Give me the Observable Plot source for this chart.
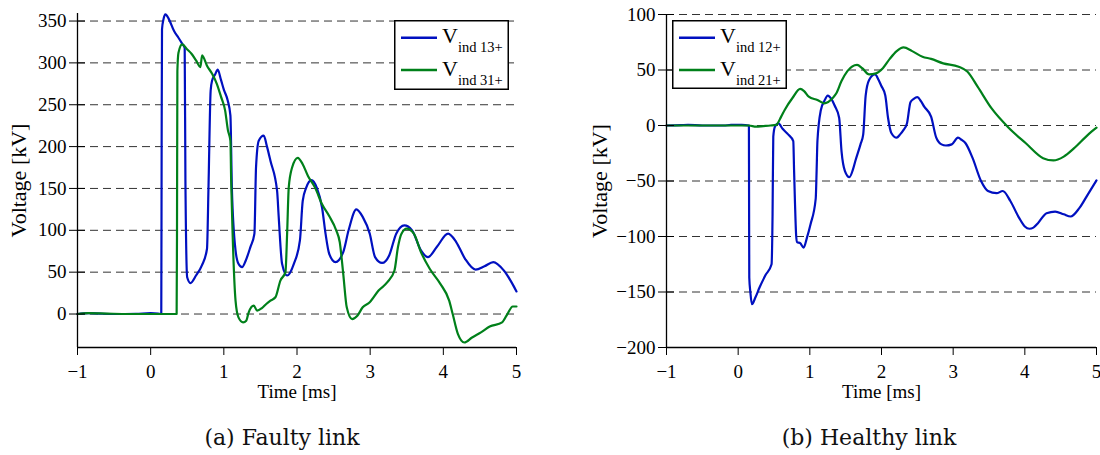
<!DOCTYPE html>
<html><head><meta charset="utf-8">
<script src="https://cdn.jsdelivr.net/npm/d3@7"></script>
<script src="https://cdn.jsdelivr.net/npm/@observablehq/plot@0.6"></script>
<style>
body{margin:0;background:#fff;}
#wrap{position:relative;width:1100px;height:455px;font-family:"Liberation Serif",serif;overflow:hidden;}
.panel{position:absolute;top:0;}
.panel svg{overflow:visible;}
.caption{position:absolute;top:427px;font-family:"DejaVu Serif",serif;font-size:22px;line-height:22px;transform:translateX(-50%);white-space:nowrap;color:#111;}
.legend{position:absolute;}
</style>
</head><body>
<div id="wrap"></div>
<script>
// ---------- data ----------
const xTicks = [-1, 0, 1, 2, 3, 4, 5];
const yTicksA = [0, 50, 100, 150, 200, 250, 300, 350];
const yTicksB = [-200, -150, -100, -50, 0, 50, 100];
const captions = ["(a) Faulty link", "(b) Healthy link"];
const legendA = ["ind 13+", "ind 31+"];
const legendB = ["ind 12+", "ind 21+"];

// (a) Faulty link: [time ms, voltage kV]
const faulty13 = [[-1,0],[-0.85,1],[-0.7,0.5],[-0.5,0],[-0.2,0.3],[0,1],[0.1,0.5],[0.145,0],[0.15,200],[0.155,340],[0.175,352],[0.202,358],[0.25,352],[0.32,338],[0.38,330],[0.43,323],[0.465,318],[0.475,159],[0.499,44],[0.544,37],[0.62,46],[0.70,58],[0.77,78],[0.79,150],[0.82,267],[0.84,279],[0.88,286],[0.917,292],[0.96,280],[1.0,268],[1.053,255],[1.09,237],[1.11,150],[1.16,76],[1.2,60],[1.25,56],[1.30,64],[1.363,80],[1.418,96],[1.44,175],[1.477,207],[1.545,213],[1.59,200],[1.637,183],[1.728,147],[1.75,116],[1.796,60],[1.865,46],[1.957,60],[2.04,88],[2.078,135],[2.126,151],[2.198,160],[2.27,151],[2.343,127],[2.39,96],[2.44,72],[2.526,62],[2.632,74],[2.705,100],[2.811,125],[2.898,116],[2.994,96],[3.067,68],[3.163,61],[3.26,70],[3.356,96],[3.467,106],[3.573,100],[3.694,76],[3.79,68],[3.91,80],[4.065,96],[4.176,86],[4.297,66],[4.441,53],[4.562,57],[4.683,62],[4.827,52],[5,27]];
const faulty31 = [[-1,0],[-0.85,1],[-0.6,0.5],[-0.3,0],[0,0],[0.2,0],[0.355,0],[0.36,100],[0.365,290],[0.38,312],[0.43,322],[0.5,316],[0.558,311],[0.62,303],[0.68,295],[0.703,309],[0.72,307],[0.768,297],[0.84,287],[0.904,275],[0.96,260],[1.018,243],[1.055,220],[1.09,207],[1.10,160],[1.12,96],[1.16,16],[1.2,-4],[1.264,-10],[1.306,-8],[1.34,2],[1.409,10],[1.455,4],[1.52,7],[1.58,12],[1.637,16],[1.705,20],[1.773,40],[1.842,50],[1.865,96],[1.887,151],[1.933,175],[2.01,186.6],[2.078,179],[2.15,165],[2.247,151],[2.343,131],[2.44,117],[2.536,100],[2.584,86],[2.632,48],[2.68,8],[2.753,-6],[2.825,-2],[2.898,8],[2.994,14],[3.115,28],[3.235,38],[3.332,52],[3.38,80],[3.428,96],[3.5,102],[3.597,96],[3.694,74],[3.814,54],[3.959,36],[4.08,16],[4.128,0],[4.2,-24],[4.287,-34],[4.393,-28],[4.514,-22],[4.634,-15],[4.803,-10],[4.876,0],[4.948,9],[5,9]];

// (b) Healthy link
const healthy12 = [[-1,0],[-0.8,0.3],[-0.7,0.6],[-0.5,0],[-0.2,0],[-0.1,0.5],[0.05,0.5],[0.15,0],[0.152,-60],[0.155,-137],[0.17,-150],[0.192,-161],[0.24,-155],[0.298,-146],[0.38,-135],[0.466,-125],[0.48,-80],[0.49,-10],[0.514,-1],[0.562,2],[0.62,-3],[0.697,-8],[0.769,-14],[0.78,-40],[0.793,-70],[0.81,-100],[0.822,-105],[0.865,-106],[0.913,-110],[0.96,-101],[1.01,-89],[1.082,-66],[1.095,-40],[1.106,-14],[1.154,14],[1.202,22],[1.25,27],[1.30,24],[1.346,18],[1.409,7],[1.442,-23],[1.49,-41],[1.553,-46.5],[1.60,-40],[1.635,-32],[1.707,-17],[1.745,-8],[1.779,27],[1.827,41],[1.909,46],[1.96,41],[1.995,36],[2.053,27],[2.091,7],[2.139,-7],[2.212,-11],[2.26,-8],[2.308,-4],[2.356,2],[2.404,21],[2.45,24],[2.5,25.5],[2.55,22],[2.596,17],[2.692,8],[2.764,-11],[2.837,-17],[2.9,-18],[2.98,-17],[3.067,-11],[3.12,-13],[3.173,-16],[3.269,-29],[3.389,-50],[3.486,-59],[3.606,-61],[3.692,-59],[3.798,-68],[3.918,-83],[4.0,-91],[4.063,-93],[4.12,-92],[4.183,-88],[4.303,-79],[4.423,-77.5],[4.543,-80],[4.639,-82],[4.76,-74.5],[4.88,-62],[5,-49.5]];
const healthy21 = [[-1,0],[-0.6,0],[-0.3,0],[0,0],[0.15,0],[0.25,-1],[0.35,-0.5],[0.45,0],[0.529,0.5],[0.6,8],[0.649,14],[0.76,25],[0.865,33],[0.92,31],[0.985,26],[1.106,23],[1.202,20],[1.322,25],[1.37,29],[1.442,40],[1.524,49],[1.659,54.6],[1.731,51.6],[1.827,46],[1.923,47],[2.019,51.6],[2.115,60],[2.212,67],[2.308,70.3],[2.428,67],[2.572,62],[2.692,60],[2.861,56],[3.077,53],[3.197,48.6],[3.341,35],[3.534,15.6],[3.774,-2],[4.014,-16],[4.255,-29.4],[4.399,-31.5],[4.543,-28],[4.688,-20.4],[4.88,-8.4],[5,-2]];

const BLUE = "#0010c0", GREEN = "#00801a";
const FONT = "Liberation Serif";
const fmt = d => d < 0 ? "\u2212" + Math.abs(d) : String(d);

function panel(opts) {
  const {s1, s2, yDomain, yTicks, width, marginLeft, marginRight, marginTop, labelOffsetY} = opts;
  return Plot.plot({
    width, height: 400, marginLeft, marginRight, marginTop, marginBottom: 53,
    x: {domain: [-1, 5]},
    y: {domain: yDomain},
    style: {fontFamily: FONT, fontSize: "19px", background: "transparent", color: "#000", overflow: "visible"},
    marks: [
      Plot.gridY(yTicks, {stroke: "#333", strokeOpacity: 1, strokeWidth: 1, strokeDasharray: "8,5"}),
      Plot.line(s1, {x: d => d[0], y: d => d[1], stroke: BLUE, strokeWidth: 2.2, curve: "monotone-x"}),
      Plot.line(s2, {x: d => d[0], y: d => d[1], stroke: GREEN, strokeWidth: 2.2, curve: "monotone-x"}),
      Plot.ruleX([-1], {stroke: "#000", strokeWidth: 1.3}),
      Plot.ruleY([yDomain[0]], {stroke: "#000", strokeWidth: 1.3}),
      Plot.axisY(yTicks, {tickSize: 8, tickPadding: 3, tickFormat: fmt, fontSize: 19, label: null}),
      Plot.axisY(yTicks, {tickSize: 8, dx: 8, tickFormat: () => "", label: null}),
      Plot.axisY(yTicks, {tickSize: 0, tickFormat: () => "", fontSize: 22, label: "Voltage [kV]", labelAnchor: "center", labelArrow: "none", labelOffset: labelOffsetY}),
      Plot.axisX(xTicks, {tickSize: 8, tickPadding: 9, tickFormat: fmt, fontSize: 19, label: "Time [ms]", labelAnchor: "center", labelArrow: "none", labelOffset: 50})
    ]
  });
}

const wrap = document.getElementById("wrap");

function addPanel(left, plot) {
  const d = document.createElement("div");
  d.className = "panel";
  d.style.left = left + "px";
  d.appendChild(plot);
  wrap.appendChild(d);
}

addPanel(0, panel({s1: faulty13, s2: faulty31, yDomain: [-40, 359], yTicks: yTicksA, width: 550, marginLeft: 77, marginRight: 34, marginTop: 13, labelOffsetY: 67}));
addPanel(560, panel({s1: healthy12, s2: healthy21, yDomain: [-200, 100], yTicks: yTicksB, width: 540, marginLeft: 106, marginRight: 4, marginTop: 14, labelOffsetY: 75}));

function addLegend(left, top, w, h, names) {
  const svg = d3.create("svg").attr("class", "legend")
    .attr("width", w).attr("height", h)
    .style("left", left + "px").style("top", top + "px");
  svg.append("rect").attr("x", 0.75).attr("y", 0.75).attr("width", w - 1.5).attr("height", h - 1.5)
    .attr("fill", "#fff").attr("stroke", "#000").attr("stroke-width", 1.5);
  const colors = [BLUE, GREEN];
  const rows = [{ly: 17.7, vy: 22.5, sy: 31.5}, {ly: 50, vy: 55.5, sy: 65}];
  names.forEach((n, i) => {
    svg.append("line").attr("x1", 7).attr("x2", 43).attr("y1", rows[i].ly).attr("y2", rows[i].ly)
      .attr("stroke", colors[i]).attr("stroke-width", 2.5);
    const t = svg.append("text").attr("x", 48).attr("y", rows[i].vy)
      .attr("font-family", FONT).attr("font-size", 22).attr("fill", "#000");
    t.append("tspan").text("V");
    t.append("tspan").attr("font-size", 14.5).attr("dy", rows[i].sy - rows[i].vy).text(n);
  });
  wrap.appendChild(svg.node());
}
addLegend(394, 20, 115, 70, legendA);
addLegend(672, 20, 115, 69, legendB);

[[282, captions[0]], [869, captions[1]]].forEach(([cx, txt]) => {
  const c = document.createElement("div");
  c.className = "caption";
  c.style.left = cx + "px";
  c.textContent = txt;
  wrap.appendChild(c);
});
</script>
</body></html>
